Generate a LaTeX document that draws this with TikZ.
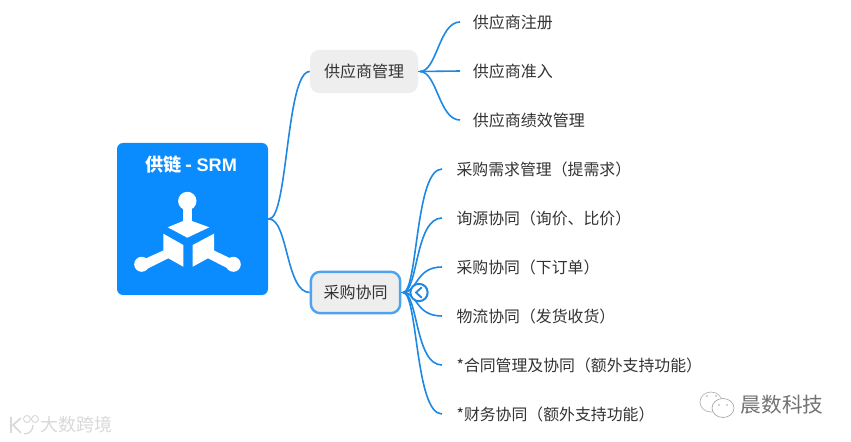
\documentclass[tikz,border=0pt]{standalone}
\usepackage{fontspec}
\setmainfont{Noto Sans CJK SC}
\newfontfamily\latinbold[BoldFont=Liberation Sans Bold]{Liberation Sans}
\definecolor{linkblue}{HTML}{1E88E5}
\definecolor{rootblue}{HTML}{0A8CFF}
\definecolor{boxgray}{HTML}{EEEEEE}
\definecolor{selblue}{HTML}{4DA3F0}
\definecolor{txt}{HTML}{333333}
\tikzset{
  link/.style={linkblue,line width=1.2pt},
  root/.style={rectangle,rounded corners=4.5pt,fill=rootblue,draw=none,minimum width=113.25pt,minimum height=114pt,inner sep=0pt},
  midbox/.style={rectangle,rounded corners=7pt,fill=boxgray,draw=none,text=txt,font=\fontsize{12}{14}\selectfont,minimum height=32.25pt,inner sep=0pt},
  selbox/.style={midbox,draw=selblue,line width=1.8pt,minimum height=31pt},
  leafa/.style={anchor=west,text=txt,font=\fontsize{12}{14}\selectfont,inner ysep=0pt,inner xsep=9.5pt},
  leafb/.style={anchor=west,text=txt,font=\fontsize{11.9}{14}\selectfont,inner ysep=0pt,inner xsep=10.75pt},
  logo/.style={fill=white,draw=none},
}
\begin{document}
\begin{tikzpicture}[x=0.75pt,y=-0.75pt]
\useasboundingbox (0,0) rectangle (851,442);
\fill[white] (0,0) rectangle (851,442);

% Root
\node[root] (root) at (192.5,219) {};
\node[text=white,font=\fontsize{13.6}{15}\bfseries\selectfont] (title) at (191,165) {供链 - {\latinbold\bfseries SRM}};

% Logo
\fill[logo] (187.3,201) circle (9.2);
\fill[logo] (183,205) rectangle (191.5,222);
\fill[logo] (167.7,227.3) -- (187.3,219.3) -- (209.3,227.3) -- (187.3,237.7) -- cycle;
\fill[logo] (163.3,233.7) -- (183.3,245) -- (183.3,266.7) -- (168.3,258.3) -- (145,270) -- (140,261) -- (163.3,250.5) -- cycle;
\fill[logo] (214,233.7) -- (192.7,245) -- (192.7,266.7) -- (208,258.3) -- (231,270) -- (236,261) -- (214,250.5) -- cycle;
\fill[logo] (141.7,264.3) circle (7.5);
\fill[logo] (233.3,264.3) circle (7.5);

% Middle nodes
\node[midbox,minimum width=81pt] (supplier) at (364,71.5) {供应商管理};
\node[selbox,minimum width=67pt] (purchase) at (355.5,292.5) {采购协同};

% Leaves: group 1
\node[leafa] (a1) at (460,22) {供应商注册};
\node[leafa] (a2) at (460,71) {供应商准入};
\node[leafa] (a3) at (460,120) {供应商绩效管理};

% Leaves: group 2
\node[leafb] (b1) at (442,169) {采购需求管理（提需求）};
\node[leafb] (b2) at (442,218) {询源协同（询价、比价）};
\node[leafb] (b3) at (442,267) {采购协同（下订单）};
\node[leafb] (b4) at (442,316) {物流协同（发货收货）};
\node[leafb] (b5) at (442,365) {*合同管理及协同（额外支持功能）};
\node[leafb] (b6) at (442,414) {*财务协同（额外支持功能）};

% Root connectors
\coordinate (rootout) at (269,219);
\draw[link] (root.east) -- (rootout);
\draw[link] (rootout) .. controls (288,219) and (286,71.5) .. (supplier.west);
\draw[link] (rootout) .. controls (288,219) and (286,292.5) .. (purchase.west);

% Supplier connectors
\coordinate (supout) at (420,71.5);
\draw[link] (supplier.east) -- (supout);
\draw[link] (supout) .. controls (437,71.5) and (439,22) .. (a1.west);
\draw[link] (supout) -- (a2.west);
\draw[link] (supout) .. controls (437,71.5) and (439,120) .. (a3.west);

% Purchase connectors
\coordinate (purout) at (403,292.5);
\draw[link] (purchase.east) -- (purout);
\foreach \t in {b1,b2,b3,b4,b5,b6}{
  \draw[link] (purout) .. controls (418,292.5) and (415,0|-\t.west) .. (\t.west);
}

% Collapse button
\node[circle,draw=linkblue,line width=1.5pt,fill=white,minimum size=13pt,inner sep=0pt] (btn) at (419,292.5) {};
\draw[linkblue,line width=1.4pt,line cap=round,line join=round] (421.5,287.5) -- (416,292.5) -- (421.5,297.5);

% Watermarks
\node[text=black!15,font=\fontsize{13.5}{15}\selectfont] (wm1) at (76.5,425) {大数跨境};
\draw[black!15,line width=1.3pt] (11,417) -- (11,433) (21,418) -- (13,425) -- (21,433);
\draw[black!15,line width=1pt] (23,432) arc (200:330:0) (24,434) .. controls (30,434) and (33,430) .. (33,425);
\draw[black!15,line width=0.7pt] (27,419) circle (3.5) (35,419) circle (3.5);
\node[text=black!55,font=\fontsize{15.5}{18}\selectfont] (wm2) at (782,405) {晨数科技};
\draw[black!30,line width=0.5pt] (711,402) ellipse (11 and 10);
\draw[black!35,line width=0.5pt,fill=white] (723,408) ellipse (11 and 9.5);
\fill[black!35] (719,405) circle (0.9) (727,405) circle (0.9) (707,396) circle (0.9) (716,396) circle (0.9);
\end{tikzpicture}
\end{document}
